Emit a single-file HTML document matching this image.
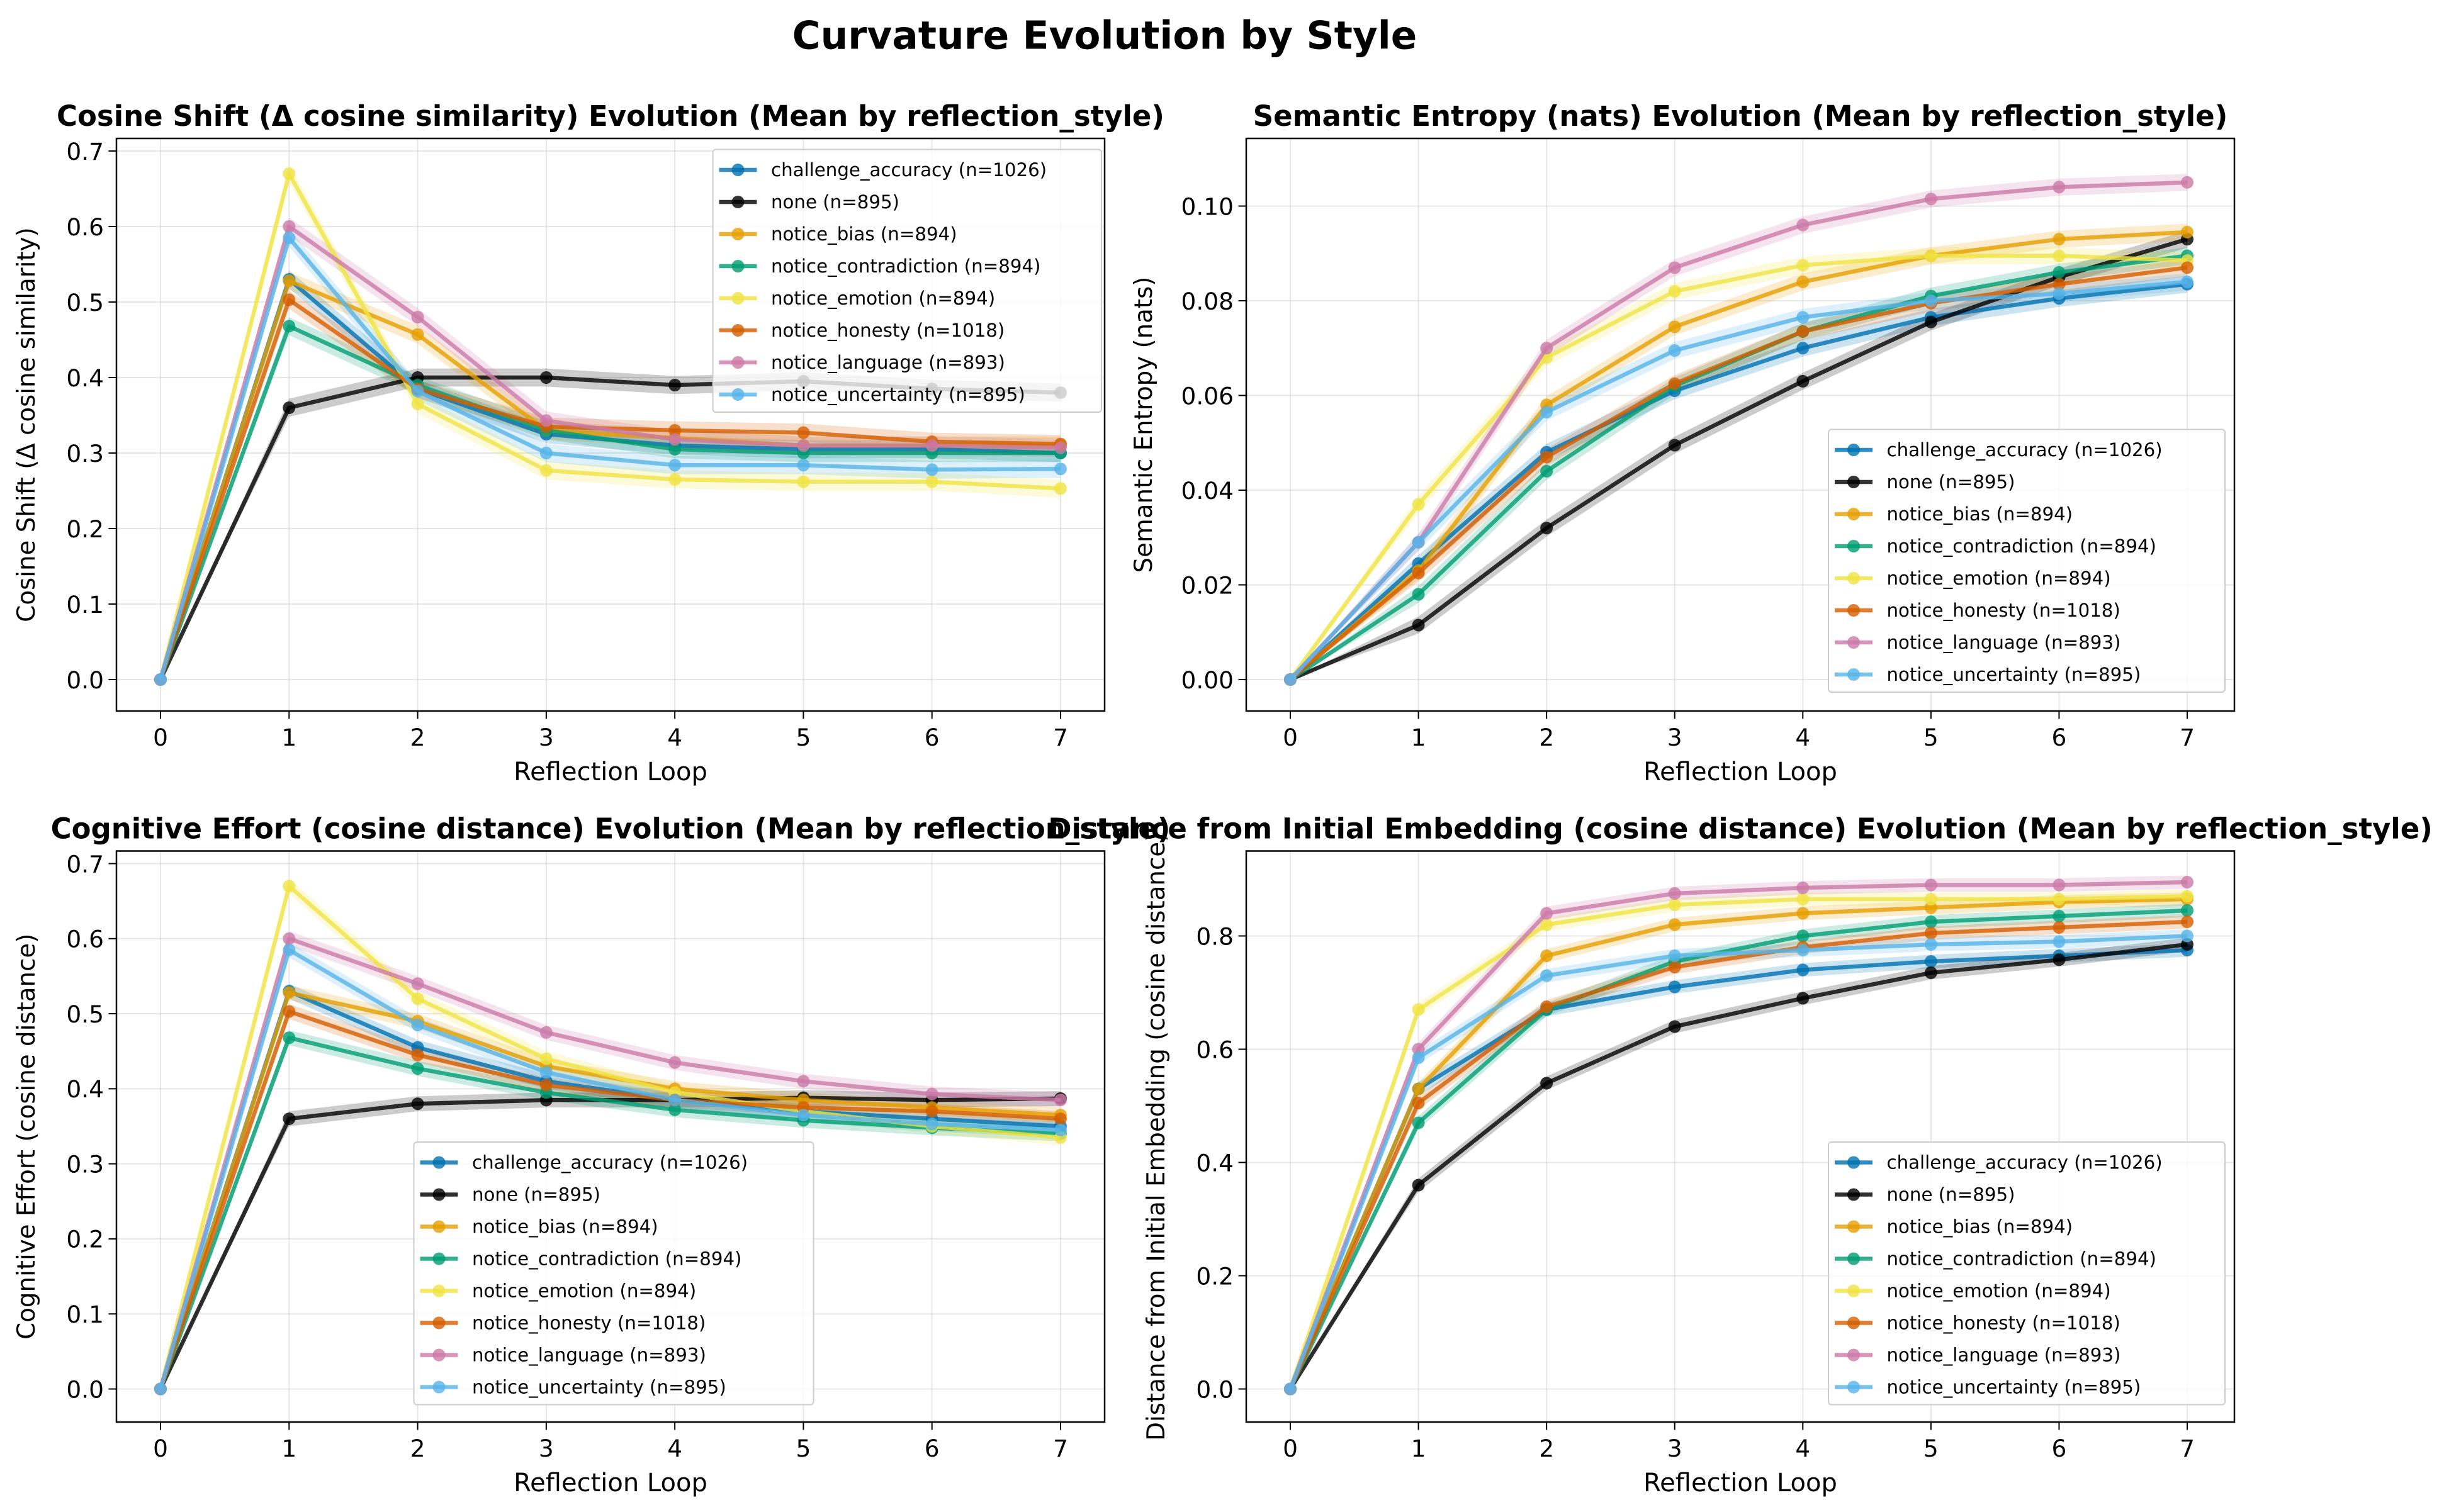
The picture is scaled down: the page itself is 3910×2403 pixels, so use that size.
<!DOCTYPE html>
<html><head><meta charset="utf-8"><style>
html,body{margin:0;padding:0;background:#fff}
svg{display:block;font-family:"DejaVu Sans","Liberation Sans",sans-serif}
</style></head><body>
<svg id="fig" width="3910" height="2403" viewBox="0 0 1564 961.2" xmlns="http://www.w3.org/2000/svg">
<rect width="1564" height="961.2" fill="#fff"/>
<text x="702" y="31" text-anchor="middle" font-size="24.5" font-weight="bold">Curvature Evolution by Style</text>
</svg>
<script>
const loops = [0,1,2,3,4,5,6,7];
const seriesNames = ["challenge_accuracy (n=1026)","none (n=895)","notice_bias (n=894)","notice_contradiction (n=894)","notice_emotion (n=894)","notice_honesty (n=1018)","notice_language (n=893)","notice_uncertainty (n=895)"];
const seriesColors = ["#0072B2","#000000","#E69F00","#009E73","#F0E442","#D55E00","#CC79A7","#56B4E9"];

const cosineShift = [
 [0,0.53,0.385,0.325,0.31,0.305,0.305,0.30],
 [0,0.36,0.40,0.40,0.39,0.395,0.385,0.38],
 [0,0.528,0.457,0.33,0.32,0.31,0.31,0.31],
 [0,0.468,0.39,0.33,0.305,0.30,0.30,0.30],
 [0,0.67,0.365,0.277,0.265,0.262,0.262,0.253],
 [0,0.503,0.385,0.335,0.33,0.327,0.315,0.312],
 [0,0.60,0.48,0.343,0.318,0.31,0.31,0.307],
 [0,0.585,0.382,0.30,0.284,0.284,0.278,0.279]];
const entropy = [
 [0,0.0245,0.048,0.061,0.070,0.0765,0.0805,0.0835],
 [0,0.0115,0.032,0.0495,0.063,0.0755,0.085,0.093],
 [0,0.023,0.058,0.0745,0.084,0.0895,0.093,0.0945],
 [0,0.018,0.044,0.062,0.0735,0.081,0.086,0.0895],
 [0,0.037,0.068,0.082,0.0875,0.0895,0.0895,0.0885],
 [0,0.0225,0.047,0.0625,0.0735,0.0795,0.0835,0.087],
 [0,0.029,0.070,0.087,0.096,0.1015,0.104,0.105],
 [0,0.029,0.0565,0.0695,0.0765,0.080,0.0815,0.084]];
const effort = [
 [0,0.53,0.455,0.41,0.385,0.37,0.36,0.35],
 [0,0.36,0.38,0.385,0.385,0.388,0.385,0.387],
 [0,0.528,0.49,0.43,0.40,0.385,0.375,0.365],
 [0,0.468,0.427,0.395,0.372,0.358,0.348,0.34],
 [0,0.67,0.52,0.44,0.395,0.37,0.35,0.335],
 [0,0.503,0.445,0.405,0.385,0.375,0.37,0.36],
 [0,0.60,0.54,0.475,0.435,0.41,0.393,0.385],
 [0,0.585,0.485,0.422,0.385,0.365,0.353,0.345]];
const distance = [
 [0,0.53,0.67,0.71,0.74,0.755,0.765,0.775],
 [0,0.36,0.54,0.64,0.69,0.735,0.758,0.785],
 [0,0.53,0.765,0.82,0.84,0.85,0.86,0.865],
 [0,0.47,0.67,0.755,0.80,0.825,0.835,0.845],
 [0,0.67,0.82,0.855,0.865,0.865,0.865,0.87],
 [0,0.505,0.675,0.745,0.78,0.805,0.815,0.825],
 [0,0.60,0.84,0.875,0.885,0.89,0.89,0.895],
 [0,0.585,0.73,0.765,0.775,0.785,0.79,0.80]];
const ticks1 = [0,0.1,0.2,0.3,0.4,0.5,0.6,0.7];
const ticks2 = [0,0.02,0.04,0.06,0.08,0.10];
const ticks4 = [0,0.2,0.4,0.6,0.8];

const NS="http://www.w3.org/2000/svg";
const fig=document.getElementById('fig');
function mk(tag,attrs,parent){const e=document.createElementNS(NS,tag);for(const k in attrs)e.setAttribute(k,attrs[k]);(parent||fig).appendChild(e);return e;}

const panels=[
 {id:'cosine-shift',title:"Cosine Shift (Δ cosine similarity) Evolution (Mean by reflection_style)",ylabel:"Cosine Shift (Δ cosine similarity)",data:cosineShift,ticks:ticks1,dec:1,box:[74,88,702,452],y0:432,yTop:96,vTop:0.7,x0:102,x7:674,band:0.012,legend:[453,95],lw:247},
 {id:'semantic-entropy',title:"Semantic Entropy (nats) Evolution (Mean by reflection_style)",ylabel:"Semantic Entropy (nats)",data:entropy,ticks:ticks2,dec:2,box:[792,88,1420,452],y0:432,yTop:131,vTop:0.10,x0:820,x7:1390,band:0.0018,legend:[1162,273],lw:252},
 {id:'cognitive-effort',title:"Cognitive Effort (cosine distance) Evolution (Mean by reflection_style)",ylabel:"Cognitive Effort (cosine distance)",data:effort,ticks:ticks1,dec:1,box:[74,541,702,904],y0:883,yTop:549,vTop:0.7,x0:102,x7:674,band:0.01,legend:[263,726],lw:254},
 {id:'distance-initial',title:"Distance from Initial Embedding (cosine distance) Evolution (Mean by reflection_style)",ylabel:"Distance from Initial Embedding (cosine distance)",data:distance,ticks:ticks4,dec:1,box:[792,541,1420,904],y0:883,yTop:595,vTop:0.8,x0:820,x7:1390,band:0.012,legend:[1162,726],lw:252}
];

panels.forEach(p=>{
 const [L,T,R,B]=p.box;
 const g=mk('g',{});
 
 
 const xs=v=>p.x0+(p.x7-p.x0)*v/7;
 const ys=v=>p.y0-(p.y0-p.yTop)*v/p.vTop;
 loops.forEach(v=>{const l=mk('line',{x1:xs(v),x2:xs(v),y1:T,y2:B,stroke:'#b0b0b0','stroke-opacity':0.3,'stroke-width':0.8},g);
  });
 p.ticks.forEach(v=>{const l=mk('line',{x1:L,x2:R,y1:ys(v),y2:ys(v),stroke:'#b0b0b0','stroke-opacity':0.3,'stroke-width':0.8},g);
  });
 p.data.forEach((s,i)=>{
  let d='M'+loops.map(v=>xs(v)+','+ys(s[v]+p.band*(v?1:0))).join('L');
  d+='L'+loops.slice().reverse().map(v=>xs(v)+','+ys(s[v]-p.band*(v?1:0))).join('L')+'Z';
  const b=mk('path',{d:d,fill:seriesColors[i],'fill-opacity':0.2,stroke:'none'},g);
  
 });
 p.data.forEach((s,i)=>{
  const pl=mk('polyline',{points:loops.map(v=>xs(v)+','+ys(s[v])).join(' '),fill:'none',stroke:seriesColors[i],'stroke-opacity':0.8,'stroke-width':2.6,'stroke-linejoin':'round'},g);
  
  loops.forEach(v=>{const c=mk('circle',{cx:xs(v),cy:ys(s[v]),r:4,fill:seriesColors[i],'fill-opacity':0.8},g);
   });
 });
 const fr=mk('rect',{x:L,y:T,width:R-L,height:B-T,fill:'none',stroke:'#000','stroke-width':1},g);
 
 loops.forEach(v=>{mk('line',{x1:xs(v),x2:xs(v),y1:B,y2:B+5,stroke:'#000','stroke-width':0.8},g);
  const t=mk('text',{x:xs(v),y:B+22,'text-anchor':'middle','font-size':15},g);t.textContent=v;
  });
 p.ticks.forEach(v=>{mk('line',{x1:L-5,x2:L,y1:ys(v),y2:ys(v),stroke:'#000','stroke-width':0.8},g);
  const t=mk('text',{x:L-8,y:ys(v)+5.5,'text-anchor':'end','font-size':15},g);t.textContent=v.toFixed(p.dec);
  });
 const xl=mk('text',{x:(L+R)/2,y:B+44,'text-anchor':'middle','font-size':16},g);xl.textContent='Reflection Loop';
 
 const yl=mk('text',{x:0,y:0,'text-anchor':'middle','font-size':15.5,transform:`translate(${L-52+(p.dec==2?-8:0)},${(T+B)/2}) rotate(-90)`},g);yl.textContent=p.ylabel;
 
 const tt=mk('text',{x:(L+R)/2,y:T-8,'text-anchor':'middle','font-size':18,'font-weight':'bold'},g);tt.textContent=p.title;
 
 const [lx,ly]=p.legend;
 const lg=mk('g',{},g);
 
 mk('rect',{x:lx,y:ly,width:p.lw,height:167,rx:2,fill:'#fff','fill-opacity':0.8,stroke:'#ccc','stroke-width':0.8},lg);
 seriesNames.forEach((n,i)=>{
  const yy=ly+13+i*20.4;
  const le=mk('g',{},lg);
  
  mk('line',{x1:lx+4,x2:lx+28,y1:yy,y2:yy,stroke:seriesColors[i],'stroke-opacity':0.8,'stroke-width':2.6},le);
  mk('circle',{cx:lx+16,cy:yy,r:4,fill:seriesColors[i],'fill-opacity':0.8},le);
  const t=mk('text',{x:lx+37,y:yy+4,'font-size':11.7},le);t.textContent=n;
 });
});
</script>
</body></html>
